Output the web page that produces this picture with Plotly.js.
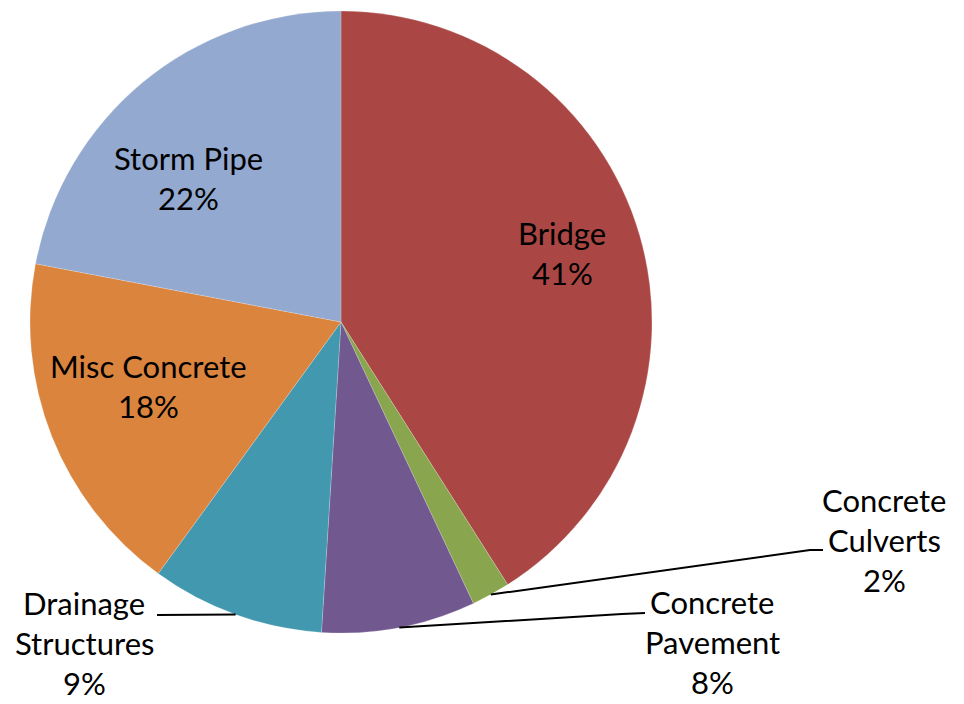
<!DOCTYPE html>
<html>
<head>
<meta charset="utf-8">
<script src="https://cdn.plot.ly/plotly-3.0.1.min.js"></script>
<style>html,body{margin:0;padding:0;background:#fff;}#chart{width:964px;height:704px;}</style>
</head>
<body>
<div id="chart"></div>
<script>
// ---- data ----
var categories = ["Bridge", "Concrete Culverts", "Concrete Pavement", "Drainage Structures", "Misc Concrete", "Storm Pipe"];
var displayLabels = ["Bridge", "Concrete<br>Culverts", "Concrete<br>Pavement", "Drainage<br>Structures", "Misc Concrete", "Storm Pipe"];
var values = [41, 2, 8, 9, 18, 22];
var colors = ["#AA4643", "#89A54E", "#71588F", "#4198AF", "#DB843D", "#93A9CF"];

// ---- layout helpers ----
var W = 964, H = 704;
var cx = 341, cy = 322, R = 311;           // pie centre / radius in px
var lineGap = 40;                           // px between label lines
function px(x) { return x / W; }
function py(y) { return 1 - y / H; }

// label block centres (layout) and leader paths (after the edge point)
var labelPos = [[562, 253], [884, 540], [712, 642], [84, 643], [148, 386], [188, 178]];
var leaders = [null, [[810, 550], [823, 550]], [[622, 614], [645, 613]], [[157, 615]], null, null];

var total = values.reduce(function (a, b) { return a + b; }, 0);
var annotations = [];
var shapes = [];
var cum = 0;
values.forEach(function (v, i) {
  var mid = (cum + v / 2) / total * 2 * Math.PI;
  cum += v;
  var pct = Math.round(v / total * 100) + "%";
  var lines = displayLabels[i].split("<br>").concat([pct]);
  var y0 = labelPos[i][1] - (lines.length - 1) * lineGap / 2;
  lines.forEach(function (t, k) {
    annotations.push({
      xref: "paper", yref: "paper",
      x: px(labelPos[i][0]), y: py(y0 + k * lineGap),
      xanchor: "center", yanchor: "middle",
      text: t,
      showarrow: false,
      font: {family: "Lato, 'Liberation Sans', sans-serif", size: 31, color: "#000"}
    });
  });
  if (leaders[i]) {
    var ex = cx + Math.sin(mid) * R, ey = cy - Math.cos(mid) * R;
    var d = "M" + px(ex) + "," + py(ey);
    leaders[i].forEach(function (p) { d += " L" + px(p[0]) + "," + py(p[1]); });
    shapes.push({type: "path", xref: "paper", yref: "paper", path: d,
                 line: {color: "#000", width: 2}});
  }
});

var trace = {
  type: "pie",
  labels: categories,
  values: values,
  sort: false,
  direction: "clockwise",
  rotation: 0,
  textinfo: "none",
  hoverinfo: "label+percent",
  marker: {colors: colors, line: {color: "rgba(255,255,255,0.4)", width: 0.5}},
  domain: {x: [px(cx - R), px(cx + R)], y: [py(cy + R), py(cy - R)]},
  showlegend: false
};

var layout = {
  width: W, height: H,
  margin: {l: 0, r: 0, t: 0, b: 0},
  paper_bgcolor: "#fff",
  showlegend: false,
  annotations: annotations,
  shapes: shapes
};

Plotly.newPlot("chart", [trace], layout, {displayModeBar: false, staticPlot: true});
</script>
</body>
</html>
